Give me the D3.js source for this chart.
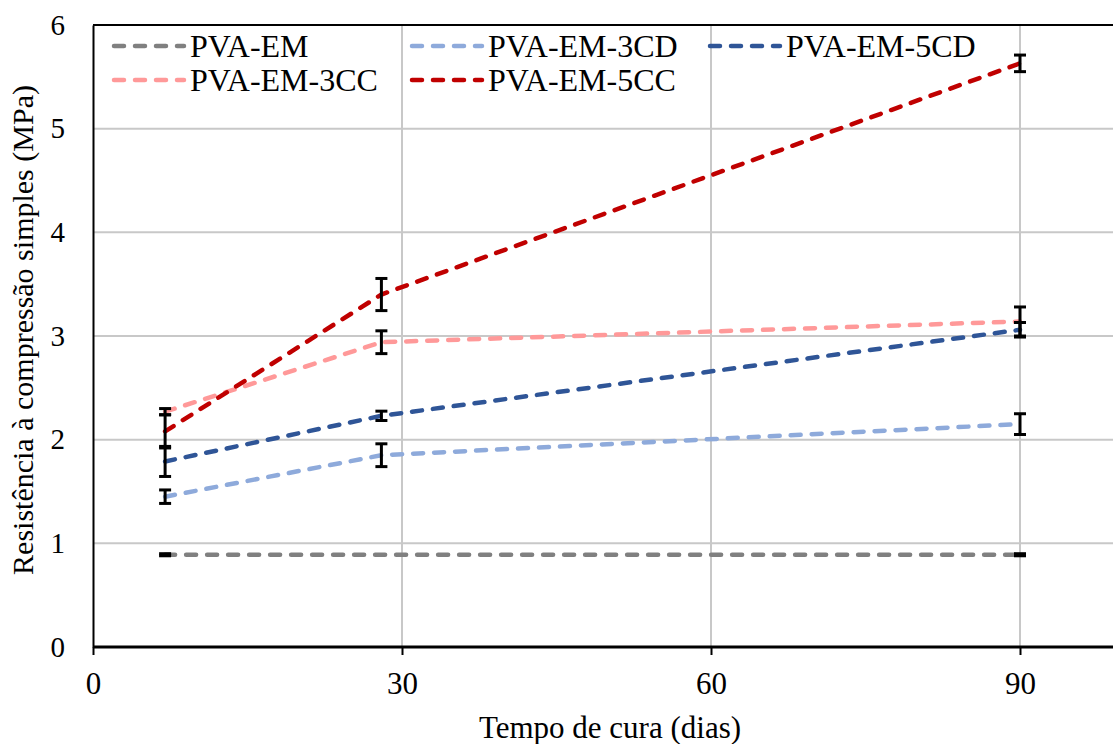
<!DOCTYPE html>
<html>
<head>
<meta charset="utf-8">
<script src="https://cdn.jsdelivr.net/npm/d3@7"></script>
<style>
  body { margin: 0; background: #fff; }
</style>
</head>
<body>
<svg id="chart" width="1113" height="744"></svg>
<script>
// data
var days = [7, 28, 90];
var seriesNames = ["PVA-EM", "PVA-EM-3CD", "PVA-EM-5CD", "PVA-EM-3CC", "PVA-EM-5CC"];
var seriesColors = ["#808080", "#8eaadb", "#2f5597", "#ff9999", "#c00000"];
var pvaEM = [0.89, 0.89, 0.89];
var pvaEM3CD = [1.45, 1.85, 2.15];
var pvaEM5CD = [1.79, 2.23, 3.06];
var pvaEM3CC = [2.27, 2.94, 3.14];
var pvaEM5CC = [2.08, 3.40, 5.63];
var errEM = [0.01, 0, 0.01];
var err3CD = [0.065, 0.11, 0.10];
var err5CD = [0.145, 0.045, 0.07];
var err3CC = [0.03, 0.11, 0.14];
var err5CC = [0.16, 0.155, 0.08];
var xTicks = [0, 30, 60, 90];
var yTicks = [0, 1, 2, 3, 4, 5, 6];

var values = [pvaEM, pvaEM3CD, pvaEM5CD, pvaEM3CC, pvaEM5CC];
var errors = [errEM, err3CD, err5CD, err3CC, err5CC];

var serif = "'Liberation Serif', 'Times New Roman', serif";

var svg = d3.select("#chart");

var x = d3.scaleLinear().domain([0, 100]).range([93, 1123]);
var y = d3.scaleLinear().domain([0, 6]).range([647, 25]);

// gridlines
svg.append("g").selectAll("line")
    .data(yTicks.filter(function(d) { return d > 0 && d < 6; }))
    .enter().append("line")
    .attr("x1", x(0)).attr("x2", 1113)
    .attr("y1", function(d) { return y(d); }).attr("y2", function(d) { return y(d); })
    .attr("stroke", "#c8c8c8").attr("stroke-width", 2);

svg.append("g").selectAll("line")
    .data(xTicks.filter(function(d) { return d > 0; }))
    .enter().append("line")
    .attr("x1", function(d) { return x(d); }).attr("x2", function(d) { return x(d); })
    .attr("y1", y(6)).attr("y2", y(0))
    .attr("stroke", "#c8c8c8").attr("stroke-width", 2);

// top border
svg.append("line")
    .attr("x1", x(0)).attr("x2", 1113)
    .attr("y1", y(6)).attr("y2", y(6))
    .attr("stroke", "#000").attr("stroke-width", 2);

// axes
var xAxis = d3.axisBottom(x).tickValues(xTicks).tickSize(8).tickPadding(17);
var gx = svg.append("g").attr("transform", "translate(0," + y(0) + ")").call(xAxis);
gx.attr("font-family", null).attr("font-size", null);
gx.select(".domain").attr("stroke", "#000").attr("stroke-width", 3).attr("d", "M" + x(0) + ",0H1113");
gx.selectAll(".tick line").attr("stroke", "#000").attr("stroke-width", 2);
gx.selectAll(".tick text").style("font-family", serif).style("font-size", "31px");

var yAxis = d3.axisLeft(y).tickValues(yTicks).tickFormat(d3.format("d")).tickSize(0).tickPadding(28);
var gy = svg.append("g").attr("transform", "translate(" + x(0) + ",0)").call(yAxis);
gy.attr("font-family", null).attr("font-size", null);
gy.select(".domain").attr("stroke", "#000").attr("stroke-width", 2);
gy.selectAll(".tick text").style("font-family", serif).style("font-size", "29px");

// axis titles
svg.append("text")
    .attr("x", 610).attr("y", 738)
    .attr("text-anchor", "middle")
    .style("font-family", serif).style("font-size", "31px")
    .text("Tempo de cura (dias)");

svg.append("text")
    .attr("transform", "translate(33,330) rotate(-90)")
    .attr("text-anchor", "middle")
    .style("font-family", serif).style("font-size", "30px")
    .text("Resistência à compressão simples (MPa)");

// series lines
var line = d3.line()
    .x(function(d, i) { return x(days[i]); })
    .y(function(d) { return y(d); });

values.forEach(function(vals, k) {
    svg.append("path")
        .datum(vals)
        .attr("d", line)
        .attr("fill", "none")
        .attr("stroke", seriesColors[k])
        .attr("stroke-width", 4.5)
        .attr("stroke-linecap", "round")
        .attr("stroke-dasharray", "10 11");
});

// error bars
values.forEach(function(vals, k) {
    var g = svg.append("g");
    vals.forEach(function(v, i) {
        var e = errors[k][i];
        if (e <= 0) return;
        var cx = x(days[i]);
        g.append("line")
            .attr("x1", cx).attr("x2", cx)
            .attr("y1", y(v + e)).attr("y2", y(v - e))
            .attr("stroke", "#000").attr("stroke-width", 3);
        [v + e, v - e].forEach(function(c) {
            g.append("line")
                .attr("x1", cx - 6).attr("x2", cx + 6)
                .attr("y1", y(c)).attr("y2", y(c))
                .attr("stroke", "#000").attr("stroke-width", 3);
        });
    });
});

// legend
var legendPos = [[112, 46], [410, 46], [708, 46], [112, 80], [410, 80]];
seriesNames.forEach(function(name, k) {
    var lg = svg.append("g").attr("transform", "translate(" + legendPos[k][0] + "," + legendPos[k][1] + ")");
    lg.append("line")
        .attr("x1", 2).attr("x2", 72)
        .attr("y1", 0).attr("y2", 0)
        .attr("stroke", seriesColors[k])
        .attr("stroke-width", 4.5)
        .attr("stroke-linecap", "round")
        .attr("stroke-dasharray", "10 11");
    lg.append("text")
        .attr("x", 78).attr("y", 11)
        .style("font-family", serif).style("font-size", "32px")
        .text(name);
});
</script>
</body>
</html>
